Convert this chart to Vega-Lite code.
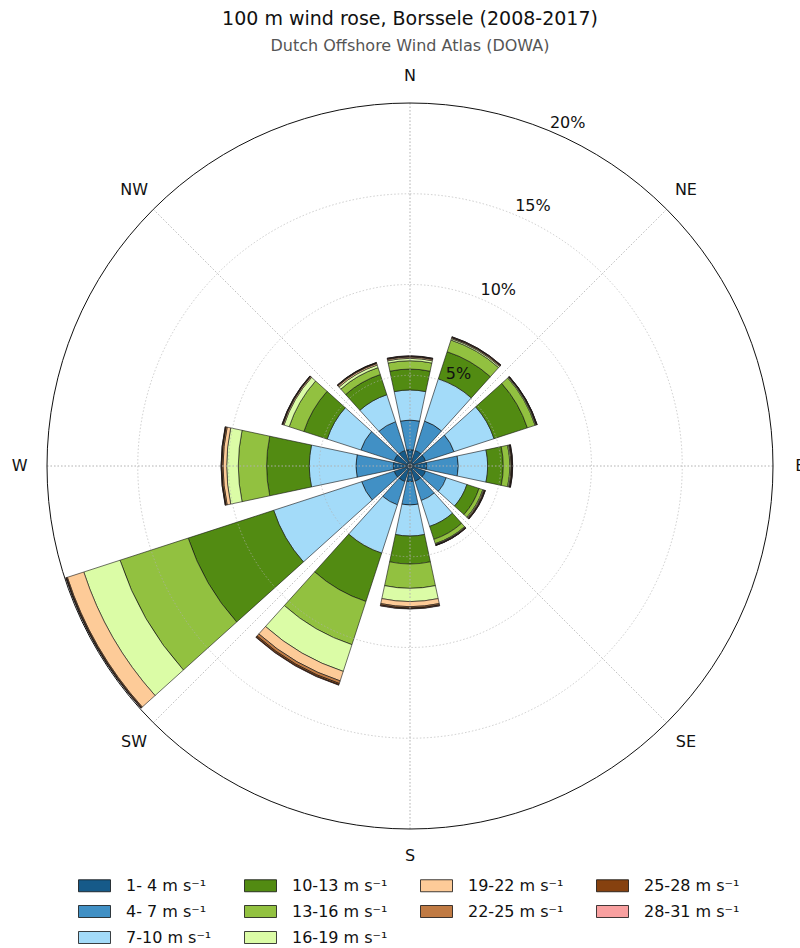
{
  "$schema": "https://vega.github.io/schema/vega-lite/v6.json",
  "width": 726,
  "height": 726,
  "autosize": {"type": "none"},
  "padding": {"left": 47, "top": 103, "right": 27, "bottom": 119},
  "background": "white",
  "config": {"font": "DejaVu Sans", "view": {"stroke": null}},
  "title": {
    "text": "100 m wind rose, Borssele (2008-2017)",
    "subtitle": "Dutch Offshore Wind Atlas (DOWA)",
    "anchor": "middle",
    "frame": "group",
    "font": "DejaVu Sans",
    "fontSize": 19,
    "fontWeight": "normal",
    "color": "#111111",
    "subtitleFont": "DejaVu Sans",
    "subtitleFontSize": 16,
    "subtitleColor": "#555555",
    "subtitlePadding": 9,
    "offset": 14
  },
  "datasets": {
    "rose": [
      {"dir": 0, "speed": 1, "pct": 0.90}, {"dir": 0, "speed": 4, "pct": 1.63}, {"dir": 0, "speed": 7, "pct": 1.66}, {"dir": 0, "speed": 10, "pct": 1.15}, {"dir": 0, "speed": 13, "pct": 0.46}, {"dir": 0, "speed": 16, "pct": 0.13}, {"dir": 0, "speed": 19, "pct": 0.07}, {"dir": 0, "speed": 22, "pct": 0.04}, {"dir": 0, "speed": 25, "pct": 0.02}, {"dir": 0, "speed": 28, "pct": 0.01},
      {"dir": 30, "speed": 1, "pct": 0.90}, {"dir": 30, "speed": 4, "pct": 1.70}, {"dir": 30, "speed": 7, "pct": 2.45}, {"dir": 30, "speed": 10, "pct": 1.57}, {"dir": 30, "speed": 13, "pct": 0.68}, {"dir": 30, "speed": 16, "pct": 0.08}, {"dir": 30, "speed": 19, "pct": 0.05}, {"dir": 30, "speed": 22, "pct": 0.03}, {"dir": 30, "speed": 25, "pct": 0.02}, {"dir": 30, "speed": 28, "pct": 0.01},
      {"dir": 60, "speed": 1, "pct": 0.90}, {"dir": 60, "speed": 4, "pct": 1.65}, {"dir": 60, "speed": 7, "pct": 2.32}, {"dir": 60, "speed": 10, "pct": 1.93}, {"dir": 60, "speed": 13, "pct": 0.45}, {"dir": 60, "speed": 16, "pct": 0.05}, {"dir": 60, "speed": 19, "pct": 0.03}, {"dir": 60, "speed": 22, "pct": 0.02}, {"dir": 60, "speed": 25, "pct": 0.01}, {"dir": 60, "speed": 28, "pct": 0.01},
      {"dir": 90, "speed": 1, "pct": 0.92}, {"dir": 90, "speed": 4, "pct": 1.74}, {"dir": 90, "speed": 7, "pct": 1.62}, {"dir": 90, "speed": 10, "pct": 0.86}, {"dir": 90, "speed": 13, "pct": 0.36}, {"dir": 90, "speed": 16, "pct": 0.06}, {"dir": 90, "speed": 19, "pct": 0.04}, {"dir": 90, "speed": 22, "pct": 0.03}, {"dir": 90, "speed": 25, "pct": 0.02}, {"dir": 90, "speed": 28, "pct": 0.01},
      {"dir": 120, "speed": 1, "pct": 0.90}, {"dir": 120, "speed": 4, "pct": 1.20}, {"dir": 120, "speed": 7, "pct": 1.20}, {"dir": 120, "speed": 10, "pct": 0.70}, {"dir": 120, "speed": 13, "pct": 0.22}, {"dir": 120, "speed": 16, "pct": 0.05}, {"dir": 120, "speed": 19, "pct": 0.04}, {"dir": 120, "speed": 22, "pct": 0.03}, {"dir": 120, "speed": 25, "pct": 0.02}, {"dir": 120, "speed": 28, "pct": 0.01},
      {"dir": 150, "speed": 1, "pct": 0.88}, {"dir": 150, "speed": 4, "pct": 1.12}, {"dir": 150, "speed": 7, "pct": 1.50}, {"dir": 150, "speed": 10, "pct": 0.75}, {"dir": 150, "speed": 13, "pct": 0.25}, {"dir": 150, "speed": 16, "pct": 0.04}, {"dir": 150, "speed": 19, "pct": 0.03}, {"dir": 150, "speed": 22, "pct": 0.02}, {"dir": 150, "speed": 25, "pct": 0.01}, {"dir": 150, "speed": 28, "pct": 0.01},
      {"dir": 180, "speed": 1, "pct": 0.86}, {"dir": 180, "speed": 4, "pct": 1.29}, {"dir": 180, "speed": 7, "pct": 1.71}, {"dir": 180, "speed": 10, "pct": 1.54}, {"dir": 180, "speed": 13, "pct": 1.34}, {"dir": 180, "speed": 16, "pct": 0.73}, {"dir": 180, "speed": 19, "pct": 0.28}, {"dir": 180, "speed": 22, "pct": 0.07}, {"dir": 180, "speed": 25, "pct": 0.04}, {"dir": 180, "speed": 28, "pct": 0.02},
      {"dir": 210, "speed": 1, "pct": 0.90}, {"dir": 210, "speed": 4, "pct": 1.35}, {"dir": 210, "speed": 7, "pct": 2.80}, {"dir": 210, "speed": 10, "pct": 2.80}, {"dir": 210, "speed": 13, "pct": 2.50}, {"dir": 210, "speed": 16, "pct": 1.55}, {"dir": 210, "speed": 19, "pct": 0.55}, {"dir": 210, "speed": 22, "pct": 0.15}, {"dir": 210, "speed": 25, "pct": 0.08}, {"dir": 210, "speed": 28, "pct": 0.02},
      {"dir": 240, "speed": 1, "pct": 0.92}, {"dir": 240, "speed": 4, "pct": 1.88}, {"dir": 240, "speed": 7, "pct": 5.10}, {"dir": 240, "speed": 10, "pct": 4.95}, {"dir": 240, "speed": 13, "pct": 3.95}, {"dir": 240, "speed": 16, "pct": 2.10}, {"dir": 240, "speed": 19, "pct": 0.95}, {"dir": 240, "speed": 22, "pct": 0.05}, {"dir": 240, "speed": 25, "pct": 0.03}, {"dir": 240, "speed": 28, "pct": 0.01},
      {"dir": 270, "speed": 1, "pct": 0.92}, {"dir": 270, "speed": 4, "pct": 2.06}, {"dir": 270, "speed": 7, "pct": 2.57}, {"dir": 270, "speed": 10, "pct": 2.35}, {"dir": 270, "speed": 13, "pct": 1.56}, {"dir": 270, "speed": 16, "pct": 0.64}, {"dir": 270, "speed": 19, "pct": 0.20}, {"dir": 270, "speed": 22, "pct": 0.07}, {"dir": 270, "speed": 25, "pct": 0.03}, {"dir": 270, "speed": 28, "pct": 0.01},
      {"dir": 300, "speed": 1, "pct": 0.92}, {"dir": 300, "speed": 4, "pct": 1.93}, {"dir": 300, "speed": 7, "pct": 1.95}, {"dir": 300, "speed": 10, "pct": 1.35}, {"dir": 300, "speed": 13, "pct": 0.85}, {"dir": 300, "speed": 16, "pct": 0.30}, {"dir": 300, "speed": 19, "pct": 0.06}, {"dir": 300, "speed": 22, "pct": 0.03}, {"dir": 300, "speed": 25, "pct": 0.02}, {"dir": 300, "speed": 28, "pct": 0.01},
      {"dir": 330, "speed": 1, "pct": 0.90}, {"dir": 330, "speed": 4, "pct": 1.67}, {"dir": 330, "speed": 7, "pct": 1.56}, {"dir": 330, "speed": 10, "pct": 1.17}, {"dir": 330, "speed": 13, "pct": 0.40}, {"dir": 330, "speed": 16, "pct": 0.15}, {"dir": 330, "speed": 19, "pct": 0.08}, {"dir": 330, "speed": 22, "pct": 0.04}, {"dir": 330, "speed": 25, "pct": 0.02}, {"dir": 330, "speed": 28, "pct": 0.01}
    ]
  },
  "layer": [
    {
      "data": {"name": "rose"},
      "transform": [
        {"stack": "pct", "groupby": ["dir"], "sort": [{"field": "speed", "order": "ascending"}], "as": ["r0", "r1"]}
      ],
      "mark": {"type": "arc", "stroke": "#111111", "strokeWidth": 0.6},
      "encoding": {
        "theta": {
          "field": "dir", "type": "ordinal",
          "scale": {"type": "band", "domain": [0, 30, 60, 90, 120, 150, 180, 210, 240, 270, 300, 330], "range": [-0.261799, 6.021386], "paddingInner": 0.2, "paddingOuter": 0.1}
        },
        "radius": {"field": "r1", "type": "quantitative", "stack": null, "scale": {"type": "linear", "domain": [0, 20], "range": [0, 363], "nice": false, "zero": true}},
        "radius2": {"field": "r0"},
        "color": {
          "field": "speed", "type": "ordinal",
          "scale": {
            "domain": [1, 10, 19, 25, 4, 13, 22, 28, 7, 16],
            "range": ["#165a89", "#528b12", "#fdcb98", "#86410f", "#4190c5", "#92c140", "#c07a43", "#f9a0a0", "#a3dbf9", "#dbfca6"]
          },
          "legend": {
            "title": null,
            "orient": "none",
            "direction": "horizontal",
            "legendX": 37,
            "legendY": 772,
            "columns": 4,
            "symbolType": "M-1.6,-0.6H1.6V0.6H-1.6Z",
            "symbolSize": 400,
            "symbolStrokeColor": "#111111",
            "symbolStrokeWidth": 0.8,
            "symbolOpacity": 1,
            "labelFont": "DejaVu Sans",
            "labelFontSize": 16,
            "labelColor": "#111111",
            "labelOffset": 21,
            "labelLimit": 300,
            "rowPadding": 7,
            "columnPadding": 30,
            "labelExpr": "datum.value + '-' + (datum.value < 7 ? ' ' : '') + (datum.value + 3) + ' m s\u207b\u00b9'"
          }
        }
      }
    },
    {
      "data": {"values": [{"r": 5}, {"r": 10}, {"r": 15}]},
      "mark": {"type": "arc", "filled": false, "stroke": "#b0b0b0", "strokeWidth": 0.8, "strokeDash": [1.5, 2], "opacity": 0.8},
      "encoding": {
        "theta": {"value": 0},
        "theta2": {"value": 6.2832},
        "radius": {"field": "r", "type": "quantitative", "stack": null, "scale": {"type": "linear", "domain": [0, 20], "range": [0, 363], "nice": false, "zero": true}}
      }
    },
    {
      "data": {"values": [{"a": 0}, {"a": 45}, {"a": 90}, {"a": 135}, {"a": 180}, {"a": 225}, {"a": 270}, {"a": 315}]},
      "mark": {"type": "arc", "filled": false, "stroke": "#b0b0b0", "strokeWidth": 0.8, "strokeDash": [1.5, 2], "opacity": 0.7},
      "encoding": {
        "theta": {"field": "a", "type": "quantitative", "stack": null, "scale": {"domain": [0, 360], "range": [0, 6.283185], "zero": true, "nice": false}},
        "theta2": {"field": "a"},
        "radius": {"datum": 20, "type": "quantitative", "scale": {"type": "linear", "domain": [0, 20], "range": [0, 363], "nice": false, "zero": true}},
        "radius2": {"datum": 0}
      }
    },
    {
      "data": {"values": [{"r": 20}]},
      "mark": {"type": "arc", "filled": false, "stroke": "#111111", "strokeWidth": 1},
      "encoding": {
        "theta": {"value": 0},
        "theta2": {"value": 6.2832},
        "radius": {"field": "r", "type": "quantitative", "stack": null, "scale": {"type": "linear", "domain": [0, 20], "range": [0, 363], "nice": false, "zero": true}}
      }
    },
    {
      "data": {"values": [{"a": 0, "t": "N"}, {"a": 45, "t": "NE"}, {"a": 90, "t": "E"}, {"a": 135, "t": "SE"}, {"a": 180, "t": "S"}, {"a": 225, "t": "SW"}, {"a": 270, "t": "W"}, {"a": 315, "t": "NW"}]},
      "mark": {"type": "text", "font": "DejaVu Sans", "fontSize": 16, "color": "#111111", "align": "center", "baseline": "middle"},
      "encoding": {
        "theta": {"field": "a", "type": "quantitative", "stack": null, "scale": {"domain": [0, 360], "range": [0, 6.283185], "zero": true, "nice": false}},
        "radius": {"datum": 21.5, "type": "quantitative", "scale": {"type": "linear", "domain": [0, 20], "range": [0, 363], "nice": false, "zero": true}},
        "text": {"field": "t"}
      }
    },
    {
      "data": {"values": [{"v": 5, "t": "5%"}, {"v": 10, "t": "10%"}, {"v": 15, "t": "15%"}, {"v": 20, "t": "20%"}]},
      "mark": {"type": "text", "font": "DejaVu Sans", "fontSize": 16, "color": "#111111", "align": "left", "baseline": "bottom", "dx": 1},
      "encoding": {
        "theta": {"datum": 22.5, "type": "quantitative", "scale": {"domain": [0, 360], "range": [0, 6.283185], "zero": true, "nice": false}},
        "radius": {"field": "v", "type": "quantitative", "stack": null, "scale": {"type": "linear", "domain": [0, 20], "range": [0, 363], "nice": false, "zero": true}},
        "text": {"field": "t"}
      }
    }
  ],
  "resolve": {"scale": {"theta": "independent"}}
}
